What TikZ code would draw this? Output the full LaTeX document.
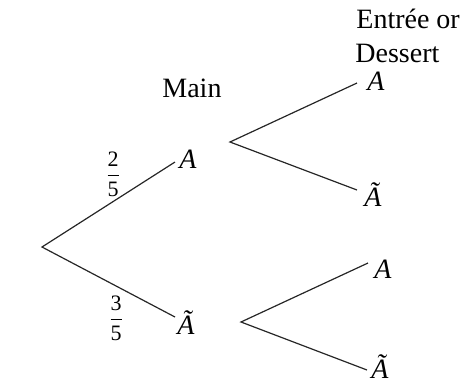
\documentclass[tikz,border=0pt]{standalone}
\usepackage{amsmath}
\usepackage{fontspec}
\setmainfont{Liberation Serif}
\begin{document}
\begin{tikzpicture}[x=0.5pt,y=-0.5pt,
  branch/.style={draw=black!85,line width=0.6pt},
  lab/.style={inner sep=0pt,anchor=base west,font=\fontsize{14}{16}\selectfont},
  fr/.style={inner sep=0pt,font=\fontsize{11}{13}\selectfont}]
\useasboundingbox (0,0) rectangle (461,382);
% branch points
\coordinate (r) at (42,247);
\coordinate (m1) at (175,162);
\coordinate (m2) at (175,317);
\coordinate (s1) at (230,142);
\coordinate (s1a) at (357,83);
\coordinate (s1b) at (357,190);
\coordinate (s2) at (241,322);
\coordinate (s2a) at (368,263);
\coordinate (s2b) at (367,370);
\draw[branch] (m1) -- (r) -- (m2);
\draw[branch] (s1a) -- (s1) -- (s1b);
\draw[branch] (s2a) -- (s2) -- (s2b);
% labels
\node[lab] (la) at (179,168) {\textit{A}};
\node[lab] (lb) at (177,334) {\textit{Ã}};
\node[lab] (l1a) at (367,90) {\textit{A}};
\node[lab] (l1b) at (364,206) {\textit{Ã}};
\node[lab] (l2a) at (374,278) {\textit{A}};
\node[lab] (l2b) at (371,378) {\textit{Ã}};
\node[lab] (main) at (162,97) {Main};
\node[lab] (ed1) at (356,28) {Entrée or};
\node[lab] (ed2) at (355,62) {Dessert};
\node[fr] (f1) at (113,174) {$\dfrac{\text{2}}{\text{5}}$};
\node[fr] (f2) at (116,318) {$\dfrac{\text{3}}{\text{5}}$};
\end{tikzpicture}
\end{document}
